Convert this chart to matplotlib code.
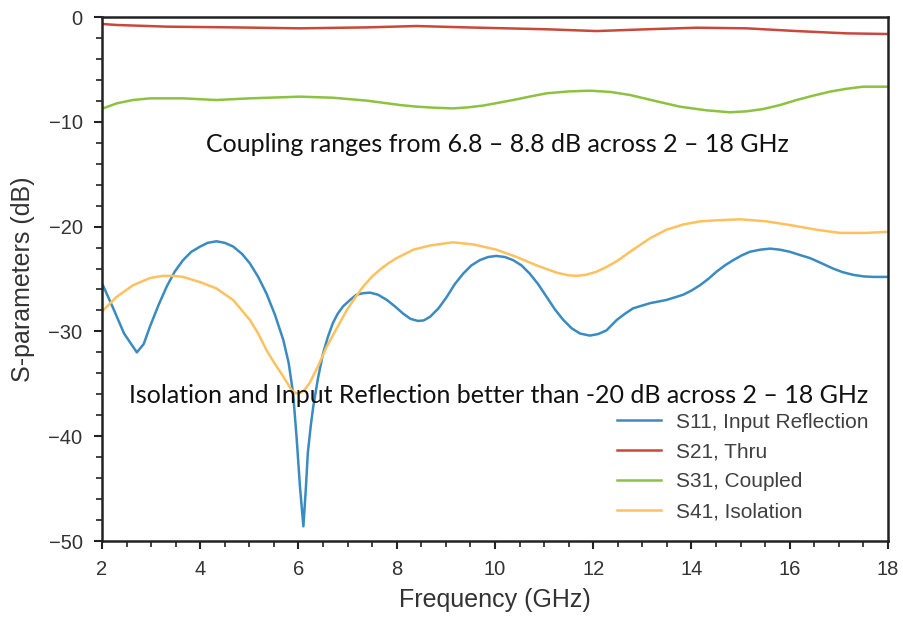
import matplotlib.pyplot as plt
from matplotlib.ticker import MultipleLocator

# S11 - input reflection
f_s11 = [2.02, 2.22, 2.45, 2.71, 2.85, 2.98, 3.15, 3.32, 3.48, 3.65, 3.82, 4.0, 4.15, 4.33, 4.5,
         4.67, 4.85, 5.01, 5.18, 5.35, 5.52, 5.69, 5.80, 5.89, 5.96, 6.03, 6.10, 6.15, 6.19,
         6.25, 6.30, 6.40, 6.50, 6.60, 6.70, 6.80, 6.91, 7.05, 7.18, 7.32, 7.46, 7.62, 7.80,
         7.96, 8.13, 8.28, 8.43, 8.55, 8.68, 8.85, 9.02, 9.18, 9.35, 9.52, 9.69, 9.86, 10.03,
         10.2, 10.37, 10.54, 10.71, 10.88, 11.05, 11.22, 11.39, 11.56, 11.73, 11.93, 12.1,
         12.27, 12.48, 12.65, 12.81, 13.16, 13.49, 13.83, 14.0, 14.17, 14.34, 14.51, 14.68,
         14.85, 15.02, 15.19, 15.40, 15.60, 15.80, 16.0, 16.2, 16.41, 16.65, 16.88, 17.08,
         17.29, 17.50, 17.70, 17.97]
s11 = [-25.6, -27.7, -30.2, -32.0, -31.2, -29.5, -27.5, -25.7, -24.3, -23.2, -22.4, -21.9, -21.55, -21.4, -21.55,
       -21.9, -22.6, -23.5, -24.8, -26.4, -28.4, -30.8, -33.0, -35.9, -40.0, -44.8, -48.6, -45.0, -41.6,
       -39.0, -37.2, -34.4, -32.1, -30.5, -29.2, -28.3, -27.6, -27.0, -26.5, -26.35, -26.3, -26.5, -27.0,
       -27.6, -28.3, -28.8, -29.0, -28.95, -28.6, -27.8, -26.7, -25.5, -24.5, -23.7, -23.2, -22.9, -22.8,
       -22.9, -23.2, -23.7, -24.5, -25.5, -26.7, -27.9, -28.9, -29.7, -30.2, -30.4, -30.25,
       -29.9, -28.9, -28.3, -27.8, -27.3, -27.0, -26.5, -26.1, -25.6, -25.0, -24.3, -23.7,
       -23.2, -22.75, -22.4, -22.2, -22.1, -22.2, -22.4, -22.7, -23.0, -23.5, -24.0, -24.35,
       -24.6, -24.75, -24.8, -24.8]

# S21 - thru
f_s21 = [2.02, 2.3, 3.32, 4.67, 6.03, 7.39, 8.4, 9.42, 9.96, 11.05, 12.07, 13.09, 14.11,
         15.12, 16.14, 17.16, 17.97]
s21 = [-0.67, -0.76, -0.92, -0.99, -1.08, -0.99, -0.86, -0.99, -1.05, -1.17, -1.34, -1.17, -1.02,
       -1.08, -1.34, -1.56, -1.62]

# S31 - coupled
f_s31 = [2.02, 2.3, 2.63, 2.98, 3.65, 4.33, 5.01, 6.03, 6.7, 7.39, 7.75, 8.07, 8.4, 8.74, 9.15,
         9.45, 9.76, 10.05, 10.37, 10.7, 11.05, 11.5, 11.93, 12.35, 12.75, 13.25, 13.77, 14.3,
         14.78, 15.12, 15.46, 15.8, 16.14, 16.48, 16.82, 17.15, 17.49, 17.97]
s31 = [-8.72, -8.24, -7.92, -7.76, -7.76, -7.92, -7.76, -7.6, -7.7, -7.98, -8.2, -8.40, -8.55, -8.65, -8.72,
       -8.62, -8.45, -8.2, -7.92, -7.6, -7.28, -7.1, -7.03, -7.15, -7.44, -8.0, -8.56, -8.9,
       -9.09, -9.0, -8.78, -8.4, -7.92, -7.5, -7.12, -6.85, -6.65, -6.65]

# S41 - isolation
f_s41 = [2.02, 2.30, 2.63, 2.98, 3.24, 3.45, 3.65, 4.0, 4.33, 4.67, 5.01, 5.18, 5.35, 5.52,
         5.69, 5.86, 5.95, 6.03, 6.12, 6.23, 6.40, 6.57, 6.78, 6.98, 7.15, 7.32, 7.49, 7.66,
         7.83, 8.0, 8.34, 8.68, 9.15, 9.56, 10.03, 10.44, 10.85, 11.26, 11.50, 11.66, 11.85,
         12.07, 12.25, 12.48, 12.81, 13.16, 13.49, 13.83, 14.17, 14.51, 14.99, 15.53, 16.07,
         16.55, 17.02, 17.57, 17.97]
s41 = [-28.0, -26.7, -25.6, -24.9, -24.7, -24.7, -24.8, -25.3, -25.9, -27.0, -28.9, -30.2, -31.8, -33.1,
       -34.3, -35.6, -35.9, -35.9, -35.6, -34.9, -33.3, -31.5, -29.7, -28.0, -26.8, -25.7, -24.8, -24.1,
       -23.5, -23.0, -22.2, -21.8, -21.5, -21.7, -22.2, -22.9, -23.7, -24.4, -24.65, -24.7, -24.6,
       -24.3, -23.9, -23.3, -22.2, -21.1, -20.3, -19.8, -19.5, -19.4, -19.3, -19.5, -19.9,
       -20.3, -20.6, -20.6, -20.5]

plt.rcParams['font.family'] = ['Liberation Sans', 'DejaVu Sans']

fig = plt.figure(figsize=(9.04, 6.21), dpi=100)
ax = fig.add_axes([0.1128, 0.1288, 0.8695, 0.8438])

lw = 1.8
ax.plot(f_s11, s11, color='#3a8bc2', lw=lw, label='S11, Input Reflection')
ax.plot(f_s21, s21, color='#c9483a', lw=lw, label='S21, Thru')
ax.plot(f_s31, s31, color='#8cc23f', lw=lw, label='S31, Coupled')
ax.plot(f_s41, s41, color='#ffc15e', lw=lw, label='S41, Isolation')

ax.set_xlim(2, 18)
ax.set_ylim(-50, 0)
ax.xaxis.set_major_locator(MultipleLocator(2))
ax.xaxis.set_minor_locator(MultipleLocator(0.5))
ax.yaxis.set_major_locator(MultipleLocator(10))
ax.yaxis.set_minor_locator(MultipleLocator(2))

for s in ax.spines.values():
    s.set_linewidth(1.8)
    s.set_color('#222222')
ax.tick_params(which='major', length=6, width=1.5, color='#222222',
               labelsize=14.5, labelcolor='#333333')
ax.tick_params(axis='x', which='major', pad=8)
ax.tick_params(axis='y', which='major', pad=8)
ax.tick_params(which='minor', length=4, width=1.2, color='#222222')

ax.set_xlabel('Frequency (GHz)', fontsize=18, color='#333333', labelpad=6)
ax.set_ylabel('S-parameters (dB)', fontsize=18, color='#333333', labelpad=10)

ax.text(10.05, -12.2, 'Coupling ranges from 6.8 \u2013 8.8 dB across 2 \u2013 18 GHz',
        ha='center', va='center', fontsize=18, family=['Lato', 'DejaVu Sans'], color='#111111')
ax.text(10.07, -36.1, 'Isolation and Input Reflection better than -20 dB across 2 \u2013 18 GHz',
        ha='center', va='center', fontsize=18, family=['Lato', 'DejaVu Sans'], color='#111111')

leg = ax.legend(loc='lower right', frameon=False, fontsize=15, handlelength=2.1,
                handletextpad=0.7, labelspacing=0.52, borderaxespad=0.55)
for t in leg.get_texts():
    t.set_color('#404040')

fig.savefig('out.png', dpi=100)
